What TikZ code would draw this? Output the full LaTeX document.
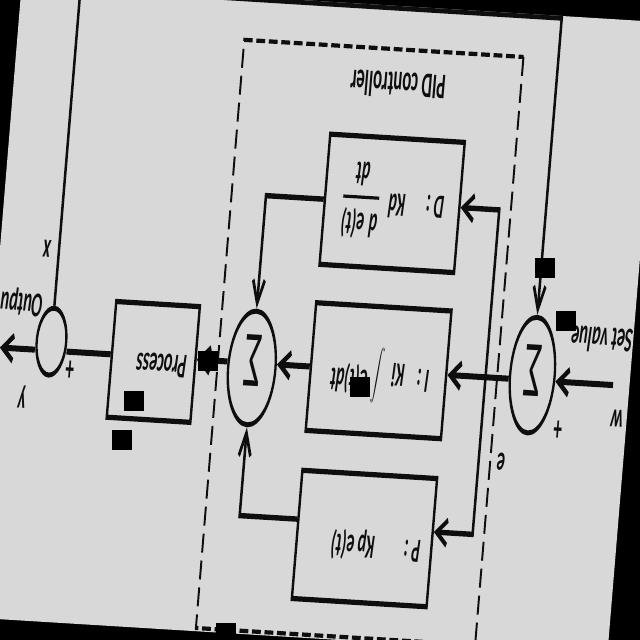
\documentclass[tikz,border=0pt]{standalone}
\usepackage{amsmath}
\usepackage{exscale}
\usepackage{fontspec}
\setmainfont{Carlito}
\usetikzlibrary{arrows.meta,shapes.geometric}
\definecolor{bg}{RGB}{216,216,216}
\definecolor{ink}{RGB}{14,14,14}
\begin{document}
\begin{tikzpicture}[x=1pt,y=1pt,
  box/.style={draw=ink, line width=5.2pt, rectangle, inner sep=0pt},
  sumnode/.style={draw=ink, line width=5pt, ellipse, inner sep=0pt},
  main/.style={draw=ink, line width=6pt},
  wire/.style={draw=ink, line width=5.4pt},
  tip/.style={-{Straight Barb[length=23pt,width=25pt]}},
  tips/.style={{Straight Barb[length=23pt,width=25pt]}-{Straight Barb[length=23pt,width=25pt]}},
  dashbox/.style={draw=ink, line width=4.2pt, dash pattern=on 19pt off 8pt},
  lbl/.style={font=\fontsize{35}{40}\selectfont\bfseries\itshape, inner sep=0pt, text=ink},
  plain/.style={font=\fontsize{36}{40}\selectfont\bfseries, inner sep=0pt, text=ink},
  mth/.style={font=\fontsize{34}{40}\selectfont\bfseries\itshape, inner sep=0pt, text=ink},
  bigint/.style={font=\fontsize{33}{40}\selectfont\boldmath, inner sep=0pt, text=ink},
  sig/.style={font=\fontsize{80}{80}\selectfont, inner sep=0pt, text=ink}
]
\fill[black] (0,-640) rectangle (640,0);
\useasboundingbox (0,-640) rectangle (640,0);
\begin{scope}[transform canvas={cm={-0.46244,0.02832,-0.08206,-0.99749,(320pt,-320pt)}}]
  \fill[bg] (-677.5,-318) rectangle (701.25,318);
  \clip (-677.5,-318) rectangle (701.25,318);
  % dashed controller frame
  \draw[dashbox] (-391.25,-274.8) rectangle (212.5,314.8);
  % blocks
  \node[box, minimum width=290.8pt, minimum height=130.5pt] (dbox) at (-134.6,-120.75) {};
  \node[box, minimum width=292.5pt, minimum height=128pt] (ibox) at (-135,47) {};
  \node[box, minimum width=291.25pt, minimum height=128.5pt] (pbox) at (-134.4,215.25) {};
  \node[box, minimum width=180.75pt, minimum height=116pt] (proc) at (351.25,52) {};
  \node[sumnode, minimum width=96pt, minimum height=116pt] (s1) at (-466.75,42) {};
  \node[sumnode, minimum width=102pt, minimum height=114pt] (s2) at (138.25,52) {};
  \node[sumnode, minimum width=63.5pt, minimum height=67pt] (out) at (574,38) {};
  % texts
  \node[sig] (s1t) at (-466,37) {Σ};
  \node[sig] (s2t) at (137,45) {Σ};
  \node[lbl] (proct) at (333,55) {Process};
  \node[plain] (pidt) at (-126,-239) {PID controller};
  \node[lbl] (setv) at (-610,2.7) {Set value};
  \node[lbl] (wl) at (-656,80) {w};
  \node[plain] (plus1) at (-531,93) {+};
  \node[plain] (plus2) at (529.5,63) {+};
  \node[lbl] (yl) at (627.5,95) {y};
  \node[lbl] (outl) at (651,0.4) {Output};
  \node[lbl] (xl) at (600,-54) {x};
  \node[lbl] (el) at (-414.5,130) {e};
  \node[mth] (dl) at (-227.5,-120) {D :};
  \node[mth] (kd) at (-145,-118.4) {Kd};
  \node[mth] (frac) at (-67,-122) {$\genfrac{}{}{3.2pt}{0}{\mbox{d\hspace{10pt}e(t)}}{\mbox{dt}}$};
  \node[mth] (il) at (-232.5,54.5) {I :};
  \node[mth] (ki) at (-178,51) {Ki};
  \node[bigint] (intg) at (-134.5,51.4) {$\displaystyle\int$};
  \node[mth] (edt) at (-72.75,57) {e(t)dt};
  \node[mth] (pl) at (-239,225) {P :};
  \node[mth] (kp) at (-110.75,222.4) {Kp e(t)};
  % connectors
  \coordinate (ws) at (-642,47);
  \coordinate (jn) at (-366.25,47);
  \coordinate (pin) at (-366.25,204.5);
  \coordinate (pout) at (0,200);
  \coordinate (fb) at (0,-316);
  \coordinate (yend) at (684,47);
  \draw[main,tip] (ws) -- (ws -| s1.west);
  \draw[main,tip] (s1.east |- ws) -- (ibox.west |- ws);
  \draw[wire,tips] (dbox.west) -- (jn |- dbox.west) -- (pin) -- (pin -| pbox.west);
  \draw[wire,tip] (dbox.east) -- (s2.south |- dbox.east) -- (s2.south);
  \draw[main,tip] (ibox.east |- ws) -- (s2.west |- ws);
  \draw[wire,tip] (pbox.east |- pout) -- (s2.north |- pout) -- (s2.north);
  \draw[main,tip] (s2.east |- ws) -- (proc.west |- ws);
  \draw[main] (proc.east |- ws) -- (out.west |- ws);
  \draw[main,tip] (out.east |- ws) -- (yend);
  \draw[wire,tip] (out.south) -- (out.south |- fb) -- (s1.south |- fb) -- (s1.south);
\end{scope}
% occluding squares
\fill[black] (535,-278) rectangle (555,-258);
\fill[black] (556,-331) rectangle (576,-311);
\fill[black] (198,-371) rectangle (218,-351);
\fill[black] (350,-397) rectangle (370,-377);
\fill[black] (124,-411) rectangle (144,-391);
\fill[black] (112,-450) rectangle (132,-430);
\fill[black] (216,-643) rectangle (236,-623);
\end{tikzpicture}
\end{document}
